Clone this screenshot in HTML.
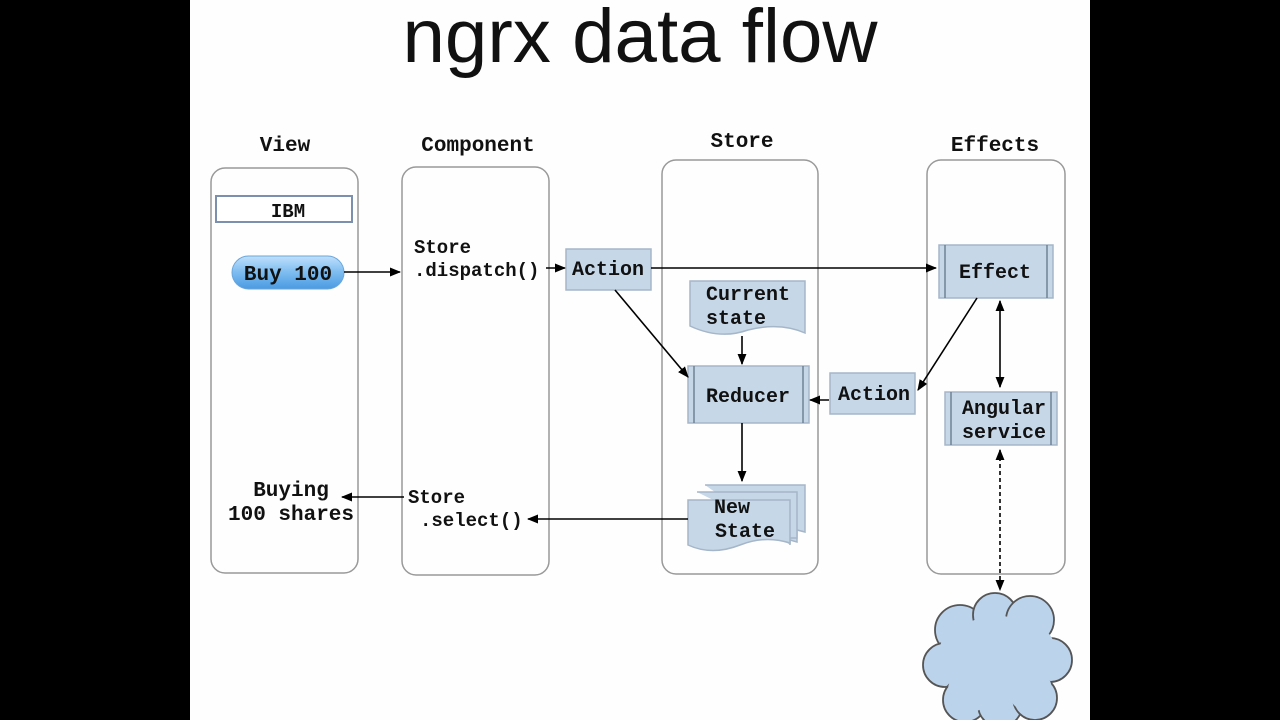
<!DOCTYPE html>
<html><head><meta charset="utf-8"><style>
html,body{margin:0;padding:0;background:#000;}
svg{display:block}
.m{font-family:"Liberation Mono",monospace;font-weight:bold;fill:#111;}
</style></head><body>
<svg width="1280" height="720" viewBox="0 0 1280 720" xmlns="http://www.w3.org/2000/svg">
<defs>
<marker id="a" viewBox="0 0 10 10" refX="9" refY="5" markerWidth="7" markerHeight="7" orient="auto-start-reverse"><path d="M0,1 L10,5 L0,9 z" fill="#000"/></marker>
<linearGradient id="g" x1="0" y1="0" x2="0" y2="1"><stop offset="0" stop-color="#bfe0fb"/><stop offset="0.5" stop-color="#7dbcf0"/><stop offset="1" stop-color="#4a9ae2"/></linearGradient>
</defs>
<rect x="190" y="0" width="900" height="720" fill="#fefefe"/>
<text x="640" y="62" text-anchor="middle" font-family="Liberation Sans,sans-serif" font-size="76" textLength="475" lengthAdjust="spacingAndGlyphs" fill="#111">ngrx data flow</text>
<g fill="none" stroke="#999" stroke-width="1.5">
<rect x="211" y="168" width="147" height="405" rx="14"/>
<rect x="402" y="167" width="147" height="408" rx="14"/>
<rect x="662" y="160" width="156" height="414" rx="14"/>
<rect x="927" y="160" width="138" height="414" rx="14"/>
</g>
<g class="m" font-size="21" text-anchor="middle">
<text x="285" y="151">View</text><text x="478" y="151">Component</text><text x="742" y="147">Store</text><text x="995" y="151">Effects</text>
</g>
<rect x="216" y="196" width="136" height="26" fill="#fff" stroke="#7d8fae" stroke-width="2"/>
<text class="m" x="288" y="217" font-size="19" text-anchor="middle">IBM</text>
<rect x="232" y="256" width="112" height="33" rx="16.5" fill="url(#g)" stroke="#6aa6dc"/>
<text class="m" x="288" y="280" font-size="21" text-anchor="middle" fill="#0d2440">Buy 100</text>
<g class="m" font-size="19">
<text x="414" y="253">Store</text><text x="414" y="276">.dispatch()</text>
<text x="408" y="503">Store</text><text x="420" y="526">.select()</text>
<text x="291" y="496" text-anchor="middle" font-size="21">Buying</text>
<text x="291" y="520" text-anchor="middle" font-size="21">100 shares</text>
</g>
<g fill="#c6d7e8" stroke="#a5b6c8" stroke-width="1.5">
<rect x="566" y="249" width="85" height="41"/>
<rect x="939" y="245" width="114" height="53"/>
<rect x="688" y="366" width="121" height="57"/>
<rect x="830" y="373" width="85" height="41"/>
<rect x="945" y="392" width="112" height="53"/>
<path d="M690,281 H805 V333 Q780,322 748,330 Q720,340 690,326 Z"/>
<path d="M705,485 H805 V532 L797,530 V542 L790,540 V545"/>
<path d="M697,492 H797 V538 L790,538"/>
<path d="M688,500 H790 V543 Q765,535 740,545 Q712,556 688,545 Z"/>
</g>
<g stroke="#6f8296" stroke-width="1.5">
<line x1="945" y1="245" x2="945" y2="298"/><line x1="1047" y1="245" x2="1047" y2="298"/>
<line x1="694" y1="366" x2="694" y2="423"/><line x1="803" y1="366" x2="803" y2="423"/>
<line x1="951" y1="392" x2="951" y2="445"/><line x1="1051" y1="392" x2="1051" y2="445"/>
</g>
<g class="m" font-size="20">
<text x="608" y="275" text-anchor="middle">Action</text>
<text x="995" y="278" text-anchor="middle">Effect</text>
<text x="748" y="402" text-anchor="middle">Reducer</text>
<text x="874" y="400" text-anchor="middle">Action</text>
<text x="1004" y="414" text-anchor="middle">Angular</text>
<text x="1004" y="438" text-anchor="middle">service</text>
<text x="706" y="300">Current</text><text x="706" y="324">state</text>
<text x="714" y="513">New</text><text x="715" y="537">State</text>
</g>
<g stroke="#000" stroke-width="1.6" fill="none">
<line x1="344" y1="272" x2="400" y2="272" marker-end="url(#a)"/>
<line x1="546" y1="268" x2="565" y2="268" marker-end="url(#a)"/>
<line x1="651" y1="268" x2="936" y2="268" marker-end="url(#a)"/>
<line x1="615" y1="290" x2="688" y2="377" marker-end="url(#a)"/>
<line x1="742" y1="336" x2="742" y2="364" marker-end="url(#a)"/>
<line x1="742" y1="423" x2="742" y2="481" marker-end="url(#a)"/>
<line x1="829" y1="400" x2="810" y2="400" marker-end="url(#a)"/>
<line x1="977" y1="298" x2="918" y2="390" marker-end="url(#a)"/>
<line x1="1000" y1="301" x2="1000" y2="387" marker-start="url(#a)" marker-end="url(#a)"/>
<line x1="1000" y1="450" x2="1000" y2="590" stroke-dasharray="4,3" marker-start="url(#a)" marker-end="url(#a)"/>
<line x1="688" y1="519" x2="528" y2="519" marker-end="url(#a)"/>
<line x1="404" y1="497" x2="342" y2="497" marker-end="url(#a)"/>
</g>
<g fill="#bcd3ec" stroke="#555" stroke-width="1.8">
<circle cx="960" cy="630" r="25"/><circle cx="995" cy="615" r="22"/><circle cx="1030" cy="620" r="24"/>
<circle cx="945" cy="665" r="22"/><circle cx="1050" cy="660" r="22"/>
<circle cx="965" cy="700" r="22"/><circle cx="1000" cy="705" r="22"/><circle cx="1035" cy="698" r="22"/>
</g>
<g fill="#bcd3ec">
<circle cx="995" cy="660" r="45"/><circle cx="965" cy="650" r="25"/><circle cx="1030" cy="650" r="25"/><circle cx="970" cy="690" r="22"/><circle cx="1030" cy="690" r="22"/>
</g>
</svg>
</body></html>
